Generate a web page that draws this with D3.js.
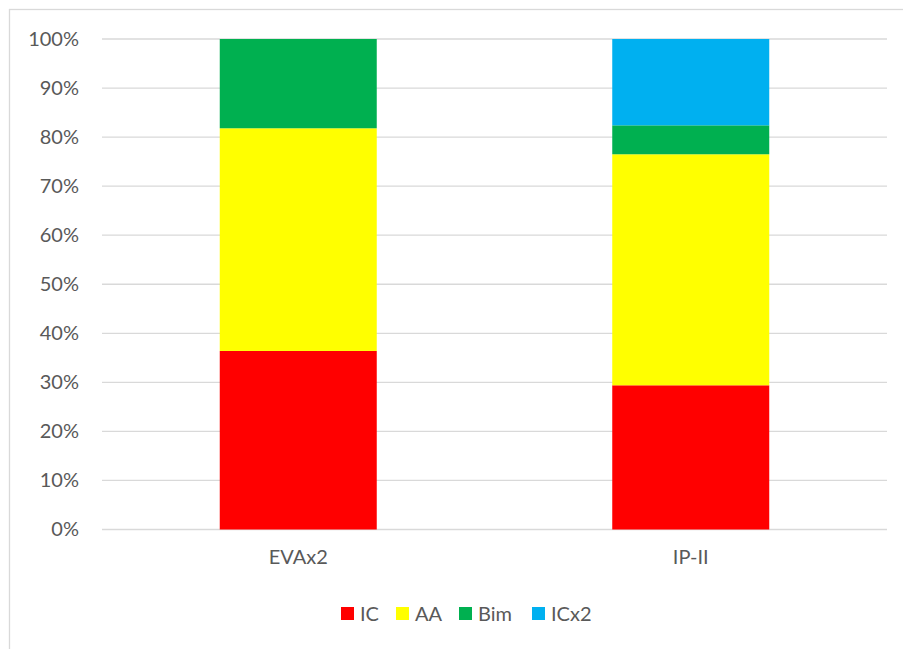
<!DOCTYPE html>
<html>
<head>
<meta charset="utf-8">
<script src="https://cdn.jsdelivr.net/npm/d3@7"></script>
<style>
  body { margin: 0; background: #fff; }
  text { font-family: Lato, "Open Sans", sans-serif; fill: #595959; }
</style>
</head>
<body>
<div id="chart"></div>
<script>
// categories and series (percent of each bar)
const categories = ["EVAx2", "IP-II"];
const seriesNames = ["IC", "AA", "Bim", "ICx2"];
const IC = [36.4, 29.4];
const AA = [45.4, 47.1];
const Bim = [18.2, 5.9];
const ICx2 = [0, 17.6];
const yTicks = [0, 10, 20, 30, 40, 50, 60, 70, 80, 90, 100];
const colors = ["#ff0000", "#ffff00", "#00b050", "#00b0f0"];

const W = 903, H = 649;
const margin = {top: 39, right: 16, bottom: 119.5, left: 102};
const width = W - margin.left - margin.right;
const height = H - margin.top - margin.bottom;

const svg = d3.select("#chart")
  .append("svg")
  .attr("width", W)
  .attr("height", H);

// chart frame
svg.append("rect")
  .attr("x", 9.5).attr("y", 9.5)
  .attr("width", W).attr("height", H)
  .attr("fill", "none")
  .attr("stroke", "#d9d9d9")
  .attr("stroke-width", 1.3);

const g = svg.append("g")
  .attr("transform", "translate(" + margin.left + "," + margin.top + ")");

const x = d3.scaleBand()
  .domain(categories)
  .range([0, width])
  .paddingInner(0.6)
  .paddingOuter(0.3);

const y = d3.scaleLinear()
  .domain([0, 100])
  .range([height, 0]);

// gridlines
g.append("g")
  .selectAll("line")
  .data(yTicks)
  .enter()
  .append("line")
  .attr("x1", 0).attr("x2", width)
  .attr("y1", d => y(d)).attr("y2", d => y(d))
  .attr("stroke", "#d9d9d9")
  .attr("stroke-width", 1.3);

// stacked bars
const table = categories.map((c, i) => ({
  cat: c, IC: IC[i], AA: AA[i], Bim: Bim[i], ICx2: ICx2[i]
}));
const stacked = d3.stack().keys(seriesNames)(table);

g.selectAll(".layer")
  .data(stacked)
  .enter()
  .append("g")
  .attr("fill", (d, i) => colors[i])
  .selectAll("rect")
  .data(d => d.filter(s => s[1] - s[0] > 0))
  .enter()
  .append("rect")
  .attr("x", d => x(d.data.cat))
  .attr("width", x.bandwidth())
  .attr("y", d => y(d[1]))
  .attr("height", d => y(d[0]) - y(d[1]));

// y axis labels
const yAxis = d3.axisLeft(y)
  .tickValues(yTicks)
  .tickFormat(d => d + "%")
  .tickSize(0)
  .tickPadding(23);
g.append("g")
  .call(yAxis)
  .call(s => s.select(".domain").remove())
  .selectAll("text")
  .style("font-size", "20px")
  .attr("fill", "#595959");

// x axis labels
const xAxis = d3.axisBottom(x).tickSize(0).tickPadding(20);
g.append("g")
  .attr("transform", "translate(0," + height + ")")
  .call(xAxis)
  .call(s => s.select(".domain").remove())
  .selectAll("text")
  .style("font-size", "20px")
  .attr("fill", "#595959");

// legend
const legendX = [341, 396, 459, 532];
const legend = svg.append("g");
seriesNames.forEach((n, i) => {
  legend.append("rect")
    .attr("x", legendX[i]).attr("y", 607)
    .attr("width", 13).attr("height", 13)
    .attr("fill", colors[i]);
  legend.append("text")
    .attr("x", legendX[i] + 19).attr("y", 621)
    .style("font-size", "20px")
    .text(n);
});
</script>
</body>
</html>
